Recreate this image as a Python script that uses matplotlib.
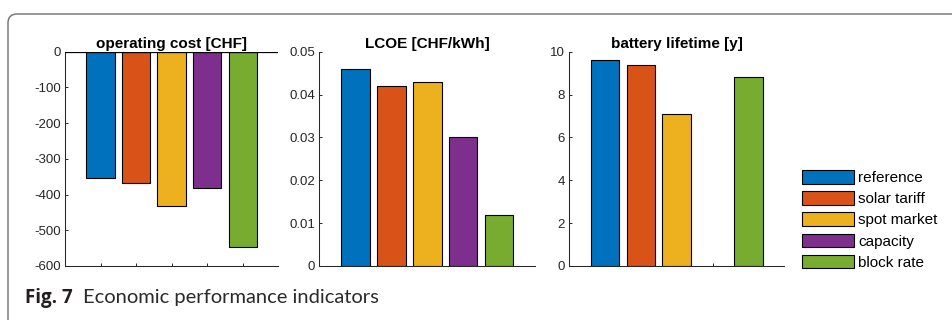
import numpy as np
import matplotlib
matplotlib.use("Agg")
import matplotlib.pyplot as plt
from matplotlib.patches import FancyBboxPatch, Patch

plt.rcParams['axes.unicode_minus'] = False
plt.rcParams['font.family'] = ['Liberation Sans', 'DejaVu Sans']

# ---- data ----
scenarios = ["reference", "solar tariff", "spot market", "capacity", "block rate"]
colors = ["#0072BD", "#D95319", "#EDB120", "#7E2F8E", "#77AC30"]
operating_cost = [-355, -369, -433, -383, -548]
lcoe = [0.046, 0.042, 0.043, 0.030, 0.012]
battery_lifetime = [9.6, 9.37, 7.08, np.nan, 8.83]
titles = ["operating cost [CHF]", "LCOE [CHF/kWh]", "battery lifetime [y]"]
yticks = [np.arange(-600, 1, 100), np.arange(0, 0.0501, 0.01), np.arange(0, 10.1, 2)]
ylims = [(-600, 0), (0, 0.05), (0, 10)]
caption_bold = "Fig. 7"
caption_text = "Economic performance indicators"

W, H = 953, 320
fig = plt.figure(figsize=(W / 100, H / 100), dpi=100)

# background frame axes (pixel coordinates)
bg = fig.add_axes([0, 0, 1, 1], zorder=-5)
bg.set_xlim(0, W)
bg.set_ylim(H, 0)
bg.axis("off")
frame = FancyBboxPatch((8, 14), 1100, 500, boxstyle="round,pad=0,rounding_size=9",
                       fill=False, edgecolor="#7a7a7a", linewidth=1.1)
bg.add_patch(frame)
bg.text(25, 298, caption_bold, fontsize=13.5, fontweight="bold",
        family=["Open Sans", "DejaVu Sans"], color="#231f20", va="center", ha="left")
bg.text(83, 298, caption_text, fontsize=14.5, fontweight="normal",
        family=["Lato", "Open Sans", "DejaVu Sans"], color="#2a2a2a", va="center", ha="left")

# axes positions in pixels: left, right
pos = [(65, 278.3), (319.3, 535), (569.3, 784.3)]
top, bottom = 51.7, 266
series = [operating_cost, lcoe, battery_lifetime]
x = np.arange(1, 6)
ink = "#262626"
for i, (l, r) in enumerate(pos):
    ax = fig.add_axes([l / W, (H - bottom) / H, (r - l) / W, (bottom - top) / H])
    ax.bar(x, series[i], width=0.8, color=colors, edgecolor="black", linewidth=0.8, zorder=2)
    ax.set_xlim(0, 6)
    ax.set_ylim(*ylims[i])
    ax.set_xticks(x)
    ax.set_xticklabels([])
    ax.set_yticks(yticks[i])
    ax.set_yticklabels([f"{v:g}" for v in yticks[i]])
    ax.tick_params(direction="in", length=2.5, width=0.7, colors=ink, labelsize=9.5, pad=3)
    for s in ["top", "right"]:
        ax.spines[s].set_visible(False)
    for s in ["left", "bottom"]:
        ax.spines[s].set_color(ink)
        ax.spines[s].set_linewidth(0.75)
    if i == 0:
        ax.axhline(0, color="black", linewidth=0.9, zorder=3)
    ax.set_title(titles[i], fontsize=11, fontweight="bold", pad=3)

handles = [Patch(facecolor=c, edgecolor="black", linewidth=0.8) for c in colors]
fig.legend(handles, scenarios, loc="upper left", bbox_to_anchor=(801.7 / W, 1 - 170 / H),
           frameon=False, fontsize=11, borderpad=0, borderaxespad=0,
           handlelength=3.4, handleheight=1.0, handletextpad=0.3, labelspacing=0.4)

fig.savefig("out.png", dpi=100)
